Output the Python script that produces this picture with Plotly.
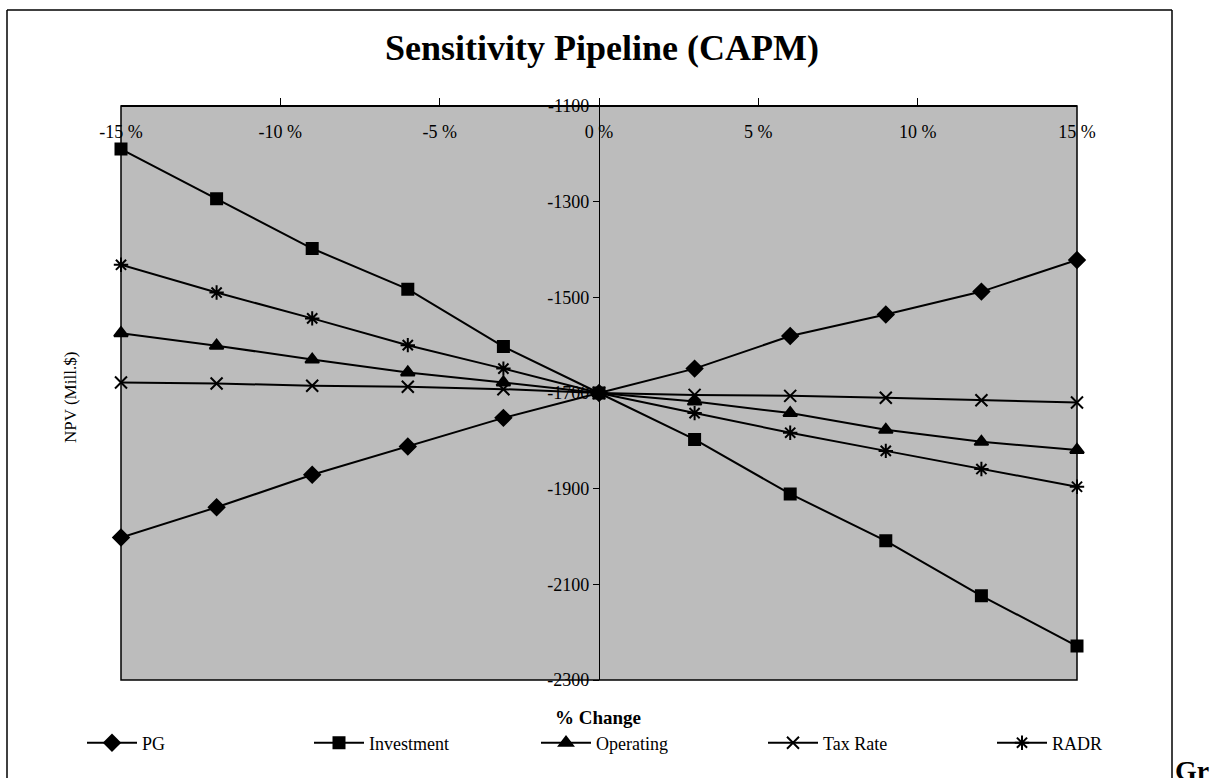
import plotly.graph_objects as go

# ---- data ----
pct_change = [-15, -12, -9, -6, -3, 0, 3, 6, 9, 12, 15]
pg = [-2002, -1939, -1871, -1812, -1752, -1700, -1649, -1581, -1536, -1488, -1422]
investment = [-1190, -1294, -1398, -1483, -1603, -1700, -1797, -1911, -2009, -2124, -2229]
operating = [-1575, -1601, -1630, -1657, -1678, -1700, -1718, -1742, -1777, -1802, -1819]
tax_rate = [-1678, -1680, -1685, -1687, -1692, -1700, -1704, -1706, -1710, -1715, -1720]
radr = [-1432, -1490, -1544, -1600, -1649, -1700, -1742, -1783, -1821, -1859, -1896]

x_tick_vals = [-15, -10, -5, 0, 5, 10, 15]
x_tick_text = ["-15 %", "-10 %", "-5 %", "0 %", "5 %", "10 %", "15 %"]
y_tick_vals = [-1100, -1300, -1500, -1700, -1900, -2100, -2300]
y_tick_text = ["-1100", "-1300", "-1500", "-1700", "-1900", "-2100", "-2300"]

series = [
    ("PG", pg, "diamond", 12, "legend"),
    ("Investment", investment, "square", 11, "legend"),
    ("Operating", operating, "triangle-up", 12, "legend"),
    ("Tax Rate", tax_rate, "x-thin-open", 12, "legend"),
    ("RADR", radr, "asterisk-open", 12, "legend2"),
]

SERIF = "Liberation Serif, Times New Roman, serif"

fig = go.Figure()
for name, vals, sym, size, leg in series:
    fig.add_trace(go.Scatter(
        x=pct_change, y=vals, name=name, mode="lines+markers",
        line=dict(color="black", width=2),
        marker=dict(symbol=sym, size=size, color="black",
                    line=dict(color="black", width=2)),
        cliponaxis=False, legend=leg,
    ))

W, H = 1213, 778
L, R, T, B = 121, 1077, 106, 680

def px_x(p):
    return (p - L) / (R - L)

def px_y(p):
    return (B - p) / (B - T)

legend_common = dict(orientation="h", xanchor="left", y=px_y(743), yanchor="middle",
                     entrywidth=162, entrywidthmode="pixels",
                     font=dict(size=18, family=SERIF), bgcolor="rgba(0,0,0,0)",
                     itemwidth=50)

fig.update_layout(
    width=W, height=H,
    margin=dict(l=L, r=W - R, t=T, b=H - B, autoexpand=False),
    paper_bgcolor="white",
    plot_bgcolor="#bcbcbc",
    font=dict(family=SERIF, color="black", size=17),
    title=dict(text="<b>Sensitivity Pipeline (CAPM)</b>", font=dict(size=36, family=SERIF),
               x=px_x(602), xref="paper", xanchor="center",
               y=1 - 47 / H, yref="container", yanchor="middle"),
    xaxis=dict(range=[-15, 15], anchor="free", position=1, side="bottom",
               tickvals=x_tick_vals, ticktext=x_tick_text,
               ticks="inside", ticklen=7, tickcolor="black", tickwidth=1,
               ticklabelstandoff=10,
               showline=True, linecolor="black", linewidth=1.5,
               showgrid=False, zeroline=False, automargin=False,
               tickfont=dict(size=18, family=SERIF)),
    yaxis=dict(range=[-2300, -1100], anchor="free", position=0.5, side="left",
               tickvals=y_tick_vals, ticktext=y_tick_text,
               ticks="outside", ticklen=6, tickcolor="black", tickwidth=1,
               showline=True, linecolor="black", linewidth=1.2,
               showgrid=False, zeroline=False, automargin=False,
               tickfont=dict(size=18, family=SERIF)),
    showlegend=True,
    legend=dict(x=px_x(82), **legend_common),
    legend2=dict(x=px_x(992), **legend_common),
)

# plot-area frame
fig.add_shape(type="rect", xref="paper", yref="paper", x0=0, x1=1, y0=0, y1=1,
              line=dict(color="black", width=1.5), layer="above")
# outer chart frame (left, top, right)
fx0, fx1 = px_x(7), px_x(1172)
fy_top, fy_bot = px_y(10), px_y(790)
for (a, b, c, d) in [(fx0, fy_bot, fx0, fy_top), (fx0, fy_top, fx1, fy_top), (fx1, fy_top, fx1, fy_bot)]:
    fig.add_shape(type="line", xref="paper", yref="paper", x0=a, y0=b, x1=c, y1=d,
                  line=dict(color="black", width=1.5))

fig.add_annotation(text="NPV (Mill.$)", xref="paper", yref="paper",
                   x=px_x(70), y=px_y(398), textangle=-90, showarrow=False,
                   font=dict(size=17, family=SERIF), xanchor="center", yanchor="middle")
fig.add_annotation(text="<b>% Change</b>", xref="paper", yref="paper",
                   x=px_x(598), y=px_y(718), showarrow=False,
                   font=dict(size=19, family=SERIF), xanchor="center", yanchor="middle")
fig.add_annotation(text="<b>Gr</b>", xref="paper", yref="paper",
                   x=px_x(1173), y=px_y(753), showarrow=False,
                   font=dict(size=28, family=SERIF), xanchor="left", yanchor="top")

fig.write_html("out.html")
